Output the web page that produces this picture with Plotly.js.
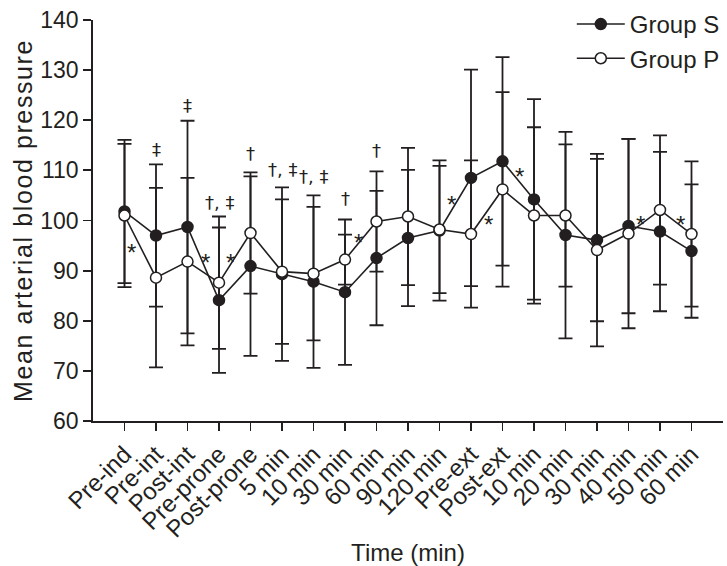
<!DOCTYPE html>
<html>
<head>
<meta charset="utf-8">
<script src="https://cdn.plot.ly/plotly-3.0.1.min.js"></script>
<style>
html,body{margin:0;padding:0;background:#fff;}
#chart{width:727px;height:566px;}
#chart .ytitle{letter-spacing:1.6px;}
</style>
</head>
<body>
<div id="chart"></div>
<script>
var categories = ["Pre-ind","Pre-int","Post-int","Pre-prone","Post-prone","5 min","10 min","30 min","60 min","90 min","120 min","Pre-ext","Post-ext","10 min","20 min","30 min","40 min","50 min","60 min"];
var groupSMean = [101.8, 97.0, 98.7, 84.1, 90.9, 89.3, 87.8, 85.7, 92.5, 96.5, 98.0, 108.5, 111.8, 104.2, 97.1, 96.1, 98.9, 97.8, 93.9];
var groupSSD   = [14.3, 14.2, 21.2, 14.5, 17.9, 17.3, 17.2, 14.5, 13.4, 13.6, 14.0, 21.6, 20.8, 20.0, 20.6, 16.2, 17.4, 15.9, 13.3];
var groupPMean = [101.0, 88.6, 91.8, 87.6, 97.5, 89.8, 89.4, 92.2, 99.8, 100.8, 98.2, 97.3, 106.2, 101.0, 101.0, 94.1, 97.4, 102.1, 97.3];
var groupPSD   = [14.3, 17.9, 16.7, 13.2, 12.1, 14.4, 13.3, 5.0, 10.0, 13.7, 12.7, 14.7, 19.4, 17.6, 14.2, 19.2, 18.9, 14.9, 14.5];
var yTicks = [60, 70, 80, 90, 100, 110, 120, 130, 140];

// significance marks: text, x (category index), y (value)
var markText = ["*","\u2021","\u2021","*","\u2020, \u2021","*","\u2020","\u2020, \u2021","\u2020, \u2021","\u2020","*","\u2020","*","*","*","*","*"];
var markX    = [0.21, 1, 2, 2.58, 3, 3.38, 4, 5, 6, 7, 7.44, 8, 10.37, 11.55, 12.55, 16.38, 17.65];
var markY    = [94.9, 114.2, 122.9, 92.8, 103.6, 92.8, 113.4, 110.2, 108.8, 104.3, 96.8, 114.0, 104.4, 100.4, 110.0, 100.4, 100.4];

var xIdx = categories.map(function(_, i){ return i; });
var ink = "#231f20";
var fontFam = "Liberation Sans, Arial, sans-serif";

var traceS = {
  x: xIdx, y: groupSMean, name: "Group S", type: "scatter", mode: "lines+markers",
  line: {color: ink, width: 1.6},
  marker: {symbol: "circle", size: 11, color: ink, line: {color: ink, width: 1.5}},
  error_y: {type: "data", array: groupSSD, visible: true, color: ink, thickness: 1.8, width: 7}
};
var traceP = {
  x: xIdx, y: groupPMean, name: "Group P", type: "scatter", mode: "lines+markers",
  line: {color: ink, width: 1.6},
  marker: {symbol: "circle", size: 11, color: "#ffffff", line: {color: ink, width: 1.5}},
  error_y: {type: "data", array: groupPSD, visible: true, color: ink, thickness: 1.8, width: 7}
};

var annotations = markText.map(function(t, i){
  var star = t === "*";
  return {x: markX[i], y: markY[i], xref: "x", yref: "y", text: t, showarrow: false,
          yshift: star ? -6 : 0,
          font: {family: star ? fontFam : "DejaVu Sans, sans-serif", size: star ? 24 : 18, color: ink}};
});

var layout = {
  width: 727, height: 566,
  margin: {l: 93, r: 2, t: 10, b: 145},
  paper_bgcolor: "#fff", plot_bgcolor: "#fff",
  font: {family: fontFam, color: ink},
  showlegend: true,
  legend: {x: 0.76, y: 1.045, xanchor: "left", yanchor: "top", bgcolor: "rgba(0,0,0,0)",
           itemwidth: 48,
           font: {family: fontFam, size: 24, color: ink}, tracegroupgap: 0},
  xaxis: {
    range: [-1, 19], tickmode: "array", tickvals: xIdx, ticktext: categories,
    tickangle: -45, ticks: "outside", ticklen: 8, tickwidth: 1.8, tickcolor: ink,
    showline: true, linecolor: ink, linewidth: 1.8, showgrid: false, zeroline: false,
    tickfont: {family: fontFam, size: 24, color: ink},
    title: {text: "Time (min)", font: {family: fontFam, size: 24, color: ink}, standoff: 6}
  },
  yaxis: {
    range: [60, 140], tickmode: "array", tickvals: yTicks,
    ticks: "outside", ticklen: 8, tickwidth: 1.8, tickcolor: ink,
    showline: true, linecolor: ink, linewidth: 1.8, showgrid: false, zeroline: false,
    tickfont: {family: fontFam, size: 23, color: ink},
    title: {text: "Mean arterial blood pressure", font: {family: fontFam, size: 25, color: ink}, standoff: 0}
  },
  annotations: annotations
};

Plotly.newPlot("chart", [traceS, traceP], layout, {displayModeBar: false, staticPlot: true});
</script>
</body>
</html>
